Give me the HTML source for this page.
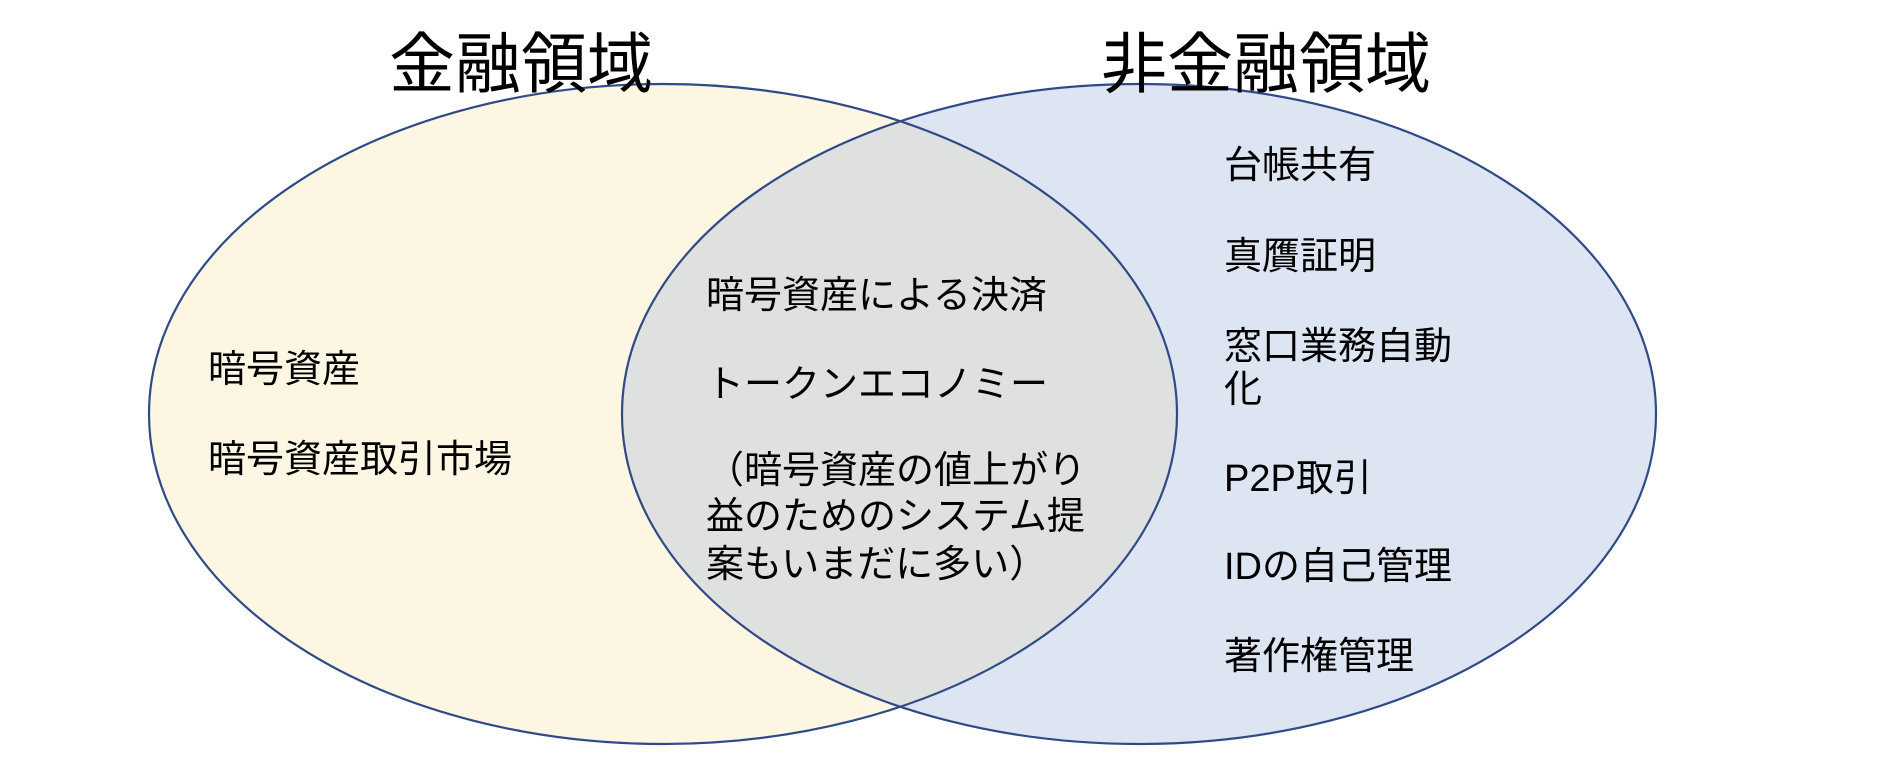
<!DOCTYPE html>
<html><head><meta charset="utf-8">
<style>
html,body{margin:0;padding:0;background:#fff;}
svg{display:block;}
text{font-family:"Liberation Sans","Noto Sans CJK JP",sans-serif;fill:#000;}
</style></head>
<body>
<svg width="1900" height="772" viewBox="0 0 1900 772" xmlns="http://www.w3.org/2000/svg">
<defs>
<clipPath id="cl"><ellipse cx="663" cy="414" rx="514" ry="330"/></clipPath>
</defs>
<ellipse cx="663" cy="414" rx="514" ry="330" fill="#fdf6e3"/>
<ellipse cx="1139" cy="414" rx="517" ry="330" fill="#dee5f2"/>
<ellipse cx="1139" cy="414" rx="517" ry="330" fill="#dfe0e0" clip-path="url(#cl)"/>
<ellipse cx="663" cy="414" rx="514" ry="330" fill="none" stroke="#2f4a86" stroke-width="2.2"/>
<ellipse cx="1139" cy="414" rx="517" ry="330" fill="none" stroke="#2f4a86" stroke-width="2.2"/>

<text x="521" y="64" font-size="66" text-anchor="middle" dominant-baseline="central">金融領域</text>
<text x="1266" y="64" font-size="66" text-anchor="middle" dominant-baseline="central">非金融領域</text>

<g font-size="38">
<text x="208" y="370" dominant-baseline="central">暗号資産</text>
<text x="208" y="460" dominant-baseline="central">暗号資産取引市場</text>

<text x="706" y="296" dominant-baseline="central">暗号資産による決済</text>
<text x="706" y="385" dominant-baseline="central">トークンエコノミー</text>
<text x="706" y="471" dominant-baseline="central">（暗号資産の値上がり</text>
<text x="706" y="517" dominant-baseline="central">益のためのシステム提</text>
<text x="706" y="565" dominant-baseline="central">案もいまだに多い）</text>

<text x="1224" y="166" dominant-baseline="central">台帳共有</text>
<text x="1224" y="257" dominant-baseline="central">真贋証明</text>
<text x="1224" y="347" dominant-baseline="central">窓口業務自動</text>
<text x="1224" y="390" dominant-baseline="central">化</text>
<text x="1224" y="479" dominant-baseline="central">P2P取引</text>
<text x="1224" y="567" dominant-baseline="central">IDの自己管理</text>
<text x="1224" y="657" dominant-baseline="central">著作権管理</text>
</g>
</svg>
</body></html>
